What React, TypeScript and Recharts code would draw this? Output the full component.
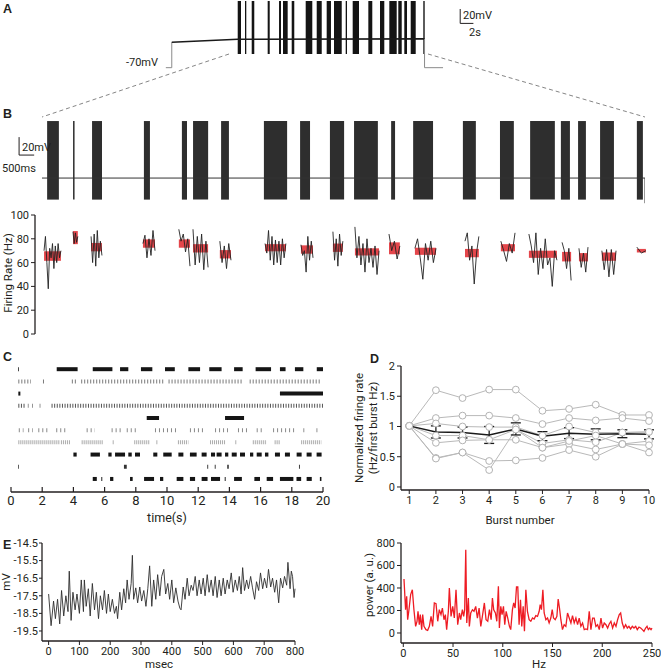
import React from 'react'
import { LineChart, Line, XAxis, YAxis, ReferenceArea, ReferenceLine, ErrorBar } from 'recharts'

const INK = '#231f20'
const FONT = 'Roboto, "Noto Sans", sans-serif'
const zero = { top: 0, right: 0, bottom: 0, left: 0 }

// ---- A: whole recording (s, mV)
const aBurstStart = [13.29, 14.39, 15.41, 17.83, 19.55, 20.15, 21.47, 23.59, 25.26, 26.77, 27.88, 29.65, 30.71, 33.08, 34.85, 36.26, 37.62, 38.53, 39.5, 41.41]
const aBurstEnd = [13.79, 14.59, 15.8, 18.14, 19.85, 20.86, 21.86, 24.59, 26.02, 27.42, 29.05, 29.85, 31.67, 33.68, 35.5, 37.38, 38.14, 38.94, 40.26, 41.62]
const aRestIn = [[2.4, -70], [3.3, -70], [3.3, -34.7]]
const aPlateau = [[3.3, -34.7], [13.3, -30.6], [41.6, -30]]
const aRestOut = [[41.6, -30], [41.6, -70], [44.4, -70]]

// ---- B: expanded 20 s (s, mV)
const bBurstStart = [0.17, 1.03, 1.66, 3.38, 4.64, 5.01, 5.94, 7.36, 8.56, 9.55, 10.35, 11.58, 12.31, 13.96, 15.19, 16.19, 17.21, 17.78, 18.51, 19.73]
const bBurstEnd = [0.56, 1.08, 1.99, 3.58, 4.81, 5.51, 6.2, 8.13, 8.89, 10.02, 11.14, 11.71, 12.97, 14.39, 15.65, 17.01, 17.51, 18.04, 18.97, 19.93]
const bBase = [[0, -60], [20, -60], [20, -88]]

// ---- firing rate per burst (Hz)
const rateStart = [0.07, 1.03, 1.63, 3.35, 4.54, 5.01, 5.9, 7.4, 8.59, 9.65, 10.38, 11.51, 12.37, 14.03, 15.22, 16.15, 17.25, 17.81, 18.57, 19.73]
const rateEnd = [0.63, 1.19, 1.99, 3.75, 4.91, 5.51, 6.27, 8.09, 8.99, 9.98, 11.18, 11.87, 13.07, 14.49, 15.69, 17.08, 17.55, 18.11, 19.04, 20.03]
const rateMean = [65.5, 81, 73, 76, 76, 72, 67, 72.5, 71, 72.5, 69, 72, 69.5, 68, 72.5, 67, 65, 64.5, 65, 70]
const rateHalf = [4, 5.5, 3.5, 3.5, 3.5, 3.5, 3.5, 3, 3.5, 3.5, 3, 5, 3, 3.5, 3, 3, 4, 3.5, 3.5, 1.5]
const rateTrace = [
  [70, 82, 60, 38, 72, 64, 76, 55, 74, 60, 76, 64, 70],
  [86, 76, 85, 77, 82],
  [82, 60, 84, 57, 87, 64, 78, 66],
  [76, 83, 64, 80, 66, 87, 70],
  [88, 78, 84, 69, 80, 57],
  [88, 58, 82, 60, 84, 54, 78, 56],
  [78, 60, 74, 55, 76, 62],
  [76, 68, 87, 62, 82, 58, 79, 60, 78, 58, 80, 64, 76],
  [75, 66, 70, 52, 82, 62, 78, 64],
  [86, 62, 80, 57, 84, 66, 78],
  [90, 64, 82, 58, 76, 52, 80, 60, 72, 56, 74, 50, 70],
  [84, 70, 78, 63, 74],
  [72, 80, 64, 46, 76, 62, 78, 60, 72],
  [78, 85, 62, 74, 42, 68, 82],
  [78, 70, 61, 76, 68, 85],
  [84, 74, 60, 85, 50, 72, 55, 80, 58, 64, 40, 70, 62],
  [77, 70, 55, 72, 45],
  [72, 56, 68, 52, 73],
  [70, 54, 71, 48, 71, 50, 70],
  [73, 68, 70],
]

// ---- C: raster, spike groups per cell [start s, end s]
const row1 = [[0.45, 0.5], [2.93, 4.27], [5.24, 6.5], [6.99, 7.52], [8.33, 9.06], [9.87, 10.5], [11.37, 12.12], [12.71, 13.5], [14.3, 14.85], [15.68, 16.67], [17.24, 17.6], [18.2, 18.74], [19.6, 20]]
const row2 = [[0.47, 1.28], [2.05, 2.12], [3.9, 4.2], [4.5, 9.8], [10.1, 14.9], [15.3, 19.9]]
const row3 = [[0.47, 0.6], [17.24, 20]]
const row4 = [[0.47, 0.9], [1.08, 1.12], [1.37, 1.41], [1.84, 1.88], [2.6, 20]]
const row5 = [[8.7, 9.49], [13.72, 14.94]]
const row6 = [[0.5, 0.8], [1.1, 1.4], [1.75, 2.4], [2.9, 3.5], [4.85, 5.38], [6.45, 7.1], [7.42, 8.16], [9.23, 10.7], [11.47, 12.44], [13.08, 13.91], [14.55, 15.13], [15.75, 16.07], [16.8, 18.2], [18.74, 18.8], [19.58, 19.64]]
const row7 = [[0.47, 3.14], [3.2, 3.78], [4.53, 5.92], [6.52, 6.58], [7.9, 8.9], [9.32, 9.38], [10.7, 11.37], [12.76, 13.72], [14.38, 14.44], [15.5, 16.4], [16.9, 17.24], [18.6, 19.9]]
const row8 = [[4.0, 4.21], [5.1, 5.7], [6.24, 6.45], [6.67, 7.31], [7.52, 7.74], [7.95, 8.27], [9.12, 9.38], [9.76, 10.3], [10.73, 11.05], [11.47, 11.9], [12.22, 12.54], [12.82, 13.08], [13.18, 13.5], [13.72, 13.93], [14.15, 14.47], [14.68, 15.0], [15.32, 15.53], [15.75, 16.07], [16.28, 16.5], [16.92, 17.24], [17.56, 17.88], [18.31, 18.63], [18.95, 19.27], [19.59, 19.91]]
const row9 = [[0.45, 0.5], [7.24, 7.42], [12.58, 12.64], [13.06, 13.12], [13.86, 13.96], [18.46, 18.52]]
const row10 = [[5.24, 5.5], [5.79, 5.85], [6.35, 6.56], [7.63, 7.8], [8.53, 9.17], [9.55, 9.76], [10.62, 11.05], [11.47, 11.8], [12.22, 12.6], [12.82, 13.4], [13.7, 13.76], [14.3, 14.8], [15.6, 15.96], [16.39, 16.8], [17.24, 18.1], [18.3, 18.6], [18.95, 19.28], [19.8, 19.9]]
const rasterRows = [row1, row2, row3, row4, row5, row6, row7, row8, row9, row10]
const rasterColor = ['#151515', '#7a7a7a', '#151515', '#555', '#151515', '#8a8a8a', '#aaa', '#151515', '#333', '#151515']
const rasterDash = ['', '1 2', '', '1 1.6', '', '1 3', '1 1', '', '', '']
const cTicks = [0, 2, 4, 6, 8, 10, 12, 14, 16, 18, 20]

// ---- D: normalized rate per burst
const dBurst = [1, 2, 3, 4, 5, 6, 7, 8, 9, 10]
const dCell1 = [1.01, 1.6, 1.47, 1.61, 1.61, 1.26, 1.29, 1.36, 1.19, 1.19]
const dCell2 = [1.01, 1.14, 1.18, 1.18, 1.14, 1.04, 1.14, 1.1, 1.14, 1.09]
const dCell3 = [1.01, 1.05, 1.0, 0.99, 0.99, 0.85, 1.0, 0.9, 0.9, 0.91]
const dCell4 = [1.01, 0.85, 0.85, 0.78, 0.95, 0.72, 0.78, 0.74, 0.9, 0.91]
const dCell5 = [1.01, 0.73, 0.77, 0.78, 0.78, 0.65, 0.71, 0.62, 0.71, 0.76]
const dCell6 = [1.01, 0.48, 0.57, 0.28, 0.95, 0.65, 0.76, 0.85, 0.71, 0.69]
const dCell7 = [1.01, 0.47, 0.57, 0.43, 0.44, 0.48, 0.61, 0.5, 0.71, 0.57]
const dMean = [1.01, 0.91, 0.9, 0.86, 0.96, 0.84, 0.89, 0.87, 0.88, 0.87]
const dErr = [0, 0.1, 0.09, 0.14, 0.1, 0.075, 0.09, 0.09, 0.065, 0.075]
const dCells = [dCell1, dCell2, dCell3, dCell4, dCell5, dCell6, dCell7]

// ---- E: membrane trace (ms, mV) and power spectrum (Hz, a.u.)
const eTrace = [[0, -17.4], [8, -19.2], [16, -17.8], [22, -18.8], [29, -17.7], [36, -19.1], [42, -17.2], [49, -18.65], [56, -17.5], [63, -18.4], [67, -16.1], [73, -18.9], [79, -17.3], [86, -18.3], [92, -17.4], [100, -18.5], [106, -16.6], [113, -18.4], [116, -16.6], [122, -18.1], [129, -17.1], [135, -18.65], [142, -16.8], [149, -18.3], [155, -17.3], [162, -18.8], [168, -17.5], [175, -18.3], [181, -17.2], [188, -18.5], [194, -17.4], [200, -18.4], [207, -17.7], [214, -18.5], [220, -18.1], [224, -18.8], [231, -17.3], [237, -18.3], [244, -17.1], [250, -17.9], [255, -16.6], [261, -17.7], [268, -16.8], [272, -15.2], [276, -17.7], [283, -17.05], [289, -17.9], [296, -17.0], [302, -17.8], [309, -17.2], [316, -18.1], [322, -17.1], [328, -15.8], [335, -18.1], [341, -16.6], [348, -17.7], [354, -16.3], [361, -17.5], [367, -16.4], [374, -16.0], [380, -17.4], [387, -16.8], [393, -17.7], [400, -16.6], [406, -17.9], [413, -17.05], [420, -17.8], [426, -18.2], [430, -18.3], [437, -17.0], [443, -17.7], [450, -16.5], [456, -17.5], [463, -16.9], [469, -17.2], [476, -16.4], [482, -17.5], [489, -16.6], [495, -17.4], [502, -16.5], [508, -17.5], [515, -16.3], [521, -17.3], [528, -16.6], [534, -17.5], [541, -16.4], [547, -17.6], [554, -16.6], [560, -17.5], [567, -16.5], [573, -17.4], [580, -16.6], [586, -17.1], [593, -16.2], [599, -17.3], [606, -16.6], [613, -17.2], [619, -16.4], [625, -17.4], [630, -15.9], [636, -17.2], [643, -16.6], [649, -17.1], [656, -16.4], [662, -17.05], [669, -17.7], [675, -16.7], [682, -17.2], [688, -16.2], [695, -17.1], [701, -16.5], [708, -17.05], [714, -16.0], [721, -17.0], [727, -16.5], [734, -17.3], [740, -16.6], [747, -17.9], [753, -16.5], [760, -17.05], [766, -16.4], [773, -16.9], [777, -15.6], [784, -17.1], [788, -16.1], [792, -16.4], [797, -17.6], [800, -17.1]]
const eSpectrum = [[0.7, 480], [2.3, 207], [3.4, 326], [4.4, 118], [5.7, 207], [7.4, 341], [9.1, 385], [10.7, 207], [12.4, 59], [13.8, 104], [14.8, 193], [16.1, 74], [17.1, 163], [18.5, 30], [19.5, 163], [20.8, 59], [22.8, 30], [24.5, 24], [26.2, 59], [27.9, 148], [29.5, 59], [31.2, 267], [32.9, 261], [34.6, 104], [36.2, 207], [37.9, 163], [39.3, 222], [40.9, 118], [42.3, 163], [43.6, 30], [45.3, 193], [46.3, 400], [48, 148], [49.7, 237], [51.3, 133], [53, 385], [54.7, 74], [56.4, 178], [57.7, 118], [59.4, 207], [60.7, 148], [61.7, 207], [62.8, 741], [63.8, 89], [65.4, 311], [66.4, 59], [67.8, 178], [69.5, 207], [71.1, 193], [72.8, 237], [74.5, 133], [76.2, 222], [77.9, 59], [79.5, 148], [81.5, 267], [83.2, 118], [84.9, 104], [86.6, 207], [88.3, 118], [89.6, 311], [90.9, 207], [92.6, 178], [94, 104], [95.6, 415], [96.6, 44], [98, 237], [99.3, 163], [100.7, 237], [102, 74], [103.4, 193], [105, 133], [106.7, 59], [108, 30], [109.7, 207], [111, 267], [112.4, 222], [113.8, 409], [115.1, 409], [116.4, 74], [117.8, 296], [119.1, 59], [120.5, 237], [121.8, 15], [123.2, 385], [124.8, 193], [126.5, 118], [128.2, 104], [129.9, 133], [131.5, 124], [133.2, 154], [134.9, 148], [136.6, 193], [137.6, 252], [138.9, 207], [140.3, 385], [141.6, 178], [143.3, 118], [145, 133], [146.6, 89], [148.3, 133], [149.7, 207], [151, 133], [152.7, 118], [154.4, 148], [155.7, 302], [157, 222], [158.4, 118], [160, 30], [161.7, 74], [163.4, 59], [165.1, 178], [166.8, 133], [168.5, 89], [170.1, 154], [171.8, 89], [173.5, 133], [175.2, 74], [176.8, 133], [178.5, 59], [180.2, 89], [181.9, 30], [183.6, 36], [185.2, 30], [186.9, 193], [188.6, 30], [190.3, 133], [191.9, 133], [193.6, 59], [195.3, 74], [197, 30], [198.7, 133], [200.3, 44], [202, 89], [203.7, 74], [205.4, 44], [207, 80], [208.7, 104], [210.4, 44], [212.1, 89], [213.8, 59], [215.4, 118], [217.1, 163], [218.5, 178], [220.1, 89], [221.8, 44], [223.5, 74], [225.2, 44], [226.8, 59], [228.5, 36], [230.2, 59], [231.9, 44], [233.6, 59], [235.2, 30], [236.9, 53], [238.6, 44], [240.3, 30], [241.9, 15], [243.6, 44], [245, 59], [246.3, 30], [247.7, 44], [249, 30], [250, 44]]

const pts = (arr: number[][], k = 't') => arr.map(([t, v]) => ({ [k]: t, v }))
const spread = (s: number, e: number, vals: number[]) =>
  vals.map((v, i) => ({ t: s + (i * (e - s)) / (vals.length - 1), v }))

const dRows = dBurst.map((b, i) => {
  const row: any = { burst: b, mean: dMean[i], err: dErr[i] }
  dCells.forEach((c, k) => (row['c' + k] = c[i]))
  return row
})

const tickFont = { fontSize: 11, fill: INK }
const axisStroke = { stroke: INK, strokeWidth: 1.3 }

function UpTick(props: any) {
  const { x, y, payload } = props
  return (
    <g>
      <line x1={x} y1={y} x2={x} y2={y - 5} stroke={INK} strokeWidth={1.2} />
      <text x={x} y={y + 13} textAnchor="middle" fontSize={13} fill={INK}>{payload.value}</text>
    </g>
  )
}

function Pos({ left, top, children }: { left: number; top: number; children: React.ReactNode }) {
  return <div style={{ position: 'absolute', left, top }}>{children}</div>
}

function PanelA() {
  return (
    <LineChart width={330} height={72} margin={zero}>
      <XAxis type="number" dataKey="t" domain={[0, 50]} hide />
      <YAxis type="number" domain={[-76, 24]} hide />
      {aBurstStart.map((s, i) => (
        <ReferenceArea key={i} x1={s} x2={aBurstEnd[i]} y1={-51} y2={22.6} fill="#141414" fillOpacity={1} stroke="none" ifOverflow="visible" />
      ))}
      <Line data={pts(aRestIn)} dataKey="v" stroke="#8a8a8a" strokeWidth={1} dot={false} isAnimationActive={false} />
      <Line data={pts(aPlateau)} dataKey="v" stroke="#1a1a1a" strokeWidth={1.6} dot={false} isAnimationActive={false} />
      <Line data={pts(aRestOut)} dataKey="v" stroke="#8a8a8a" strokeWidth={1} dot={false} isAnimationActive={false} />
      <ReferenceLine segment={[{ x: 47, y: -8.5 }, { x: 47, y: 11.5 }]} stroke={INK} strokeWidth={1} ifOverflow="visible" />
      <ReferenceLine segment={[{ x: 47, y: -8.5 }, { x: 49, y: -8.5 }]} stroke={INK} strokeWidth={1} ifOverflow="visible" />
    </LineChart>
  )
}

function PanelBTrace() {
  return (
    <LineChart width={645} height={88} margin={zero}>
      <XAxis type="number" dataKey="t" domain={[-1.393, 20]} hide />
      <YAxis type="number" domain={[-90, 8]} hide />
      <Line data={pts(bBase)} dataKey="v" stroke="#333" strokeWidth={1} dot={false} isAnimationActive={false} />
      {bBurstStart.map((s, i) => (
        <ReferenceArea key={i} x1={s} x2={bBurstEnd[i]} y1={-84} y2={3.5} fill="#2e2e2e" fillOpacity={1} stroke="none" ifOverflow="visible" />
      ))}
      <ReferenceLine segment={[{ x: -0.76, y: -34.4 }, { x: -0.76, y: -14.4 }]} stroke={INK} strokeWidth={1} ifOverflow="visible" />
      <ReferenceLine segment={[{ x: -0.76, y: -34.4 }, { x: -0.26, y: -34.4 }]} stroke={INK} strokeWidth={1} ifOverflow="visible" />
    </LineChart>
  )
}

function PanelBRate() {
  return (
    <LineChart width={648} height={135} margin={{ top: 8, right: 0, bottom: 8, left: 0 }}>
      <XAxis type="number" dataKey="t" domain={[-0.23, 20.1]} hide />
      <YAxis type="number" domain={[0, 100]} ticks={[0, 20, 40, 60, 80, 100]} width={35} tick={tickFont}
        tickSize={4} tickMargin={2} axisLine={axisStroke} tickLine={{ stroke: INK }} />
      {rateTrace.map((vals, i) => (
        <Line key={'l' + i} data={spread(rateStart[i], rateEnd[i], vals)} dataKey="v" stroke="#222" strokeWidth={0.9}
          dot={false} isAnimationActive={false} />
      ))}
      {rateStart.map((s, i) => (
        <ReferenceArea key={'r' + i} x1={s} x2={rateEnd[i]} y1={rateMean[i] - rateHalf[i]} y2={rateMean[i] + rateHalf[i]}
          fill="#e2383d" fillOpacity={0.93} stroke="none" ifOverflow="visible" />
      ))}
    </LineChart>
  )
}

function PanelC() {
  return (
    <LineChart width={336} height={170} margin={{ top: 0, right: 12, bottom: 0, left: 12 }}>
      <XAxis type="number" dataKey="t" domain={[0, 20]} ticks={cTicks} interval={0} height={35} tickSize={0} tickMargin={0}
        tickLine={false} axisLine={axisStroke} tick={UpTick} />
      <YAxis type="number" domain={[0, 11.07]} reversed hide />
      {rasterRows.map((row, r) =>
        row.map(([s, e], j) => (
          <Line key={r + '-' + j} data={[{ t: s, v: r + 1 }, { t: e, v: r + 1 }]} dataKey="v" stroke={rasterColor[r]}
            strokeWidth={4} strokeDasharray={rasterDash[r] || undefined} dot={false} isAnimationActive={false} />
        ))
      )}
    </LineChart>
  )
}

function PanelD() {
  return (
    <LineChart width={298} height={162} data={dRows} margin={{ top: 8, right: 10, bottom: 0, left: 0 }}>
      <XAxis type="number" dataKey="burst" domain={[0.69, 10]} ticks={dBurst} interval={0} axisLine={axisStroke}
        height={30} tickSize={4} tickMargin={2} tickLine={{ stroke: INK }} tick={tickFont} />
      <YAxis type="number" domain={[-0.05, 2]} ticks={[0, 0.5, 1, 1.5, 2]} axisLine={axisStroke} width={40}
        tickSize={4} tickMargin={2} tickLine={{ stroke: INK }} tick={tickFont} />
      {dCells.map((_, k) => (
        <Line key={k} dataKey={'c' + k} stroke="#b9b9b9" strokeWidth={1} isAnimationActive={false}
          dot={{ r: 3.4, fill: '#fff', stroke: '#b3b3b3', strokeWidth: 1 }} />
      ))}
      <Line dataKey="mean" stroke="#1a1a1a" strokeWidth={1.5} dot={false} isAnimationActive={false}>
        <ErrorBar dataKey="err" width={5} stroke="#1a1a1a" strokeWidth={1.3} direction="y" />
      </Line>
    </LineChart>
  )
}

function PanelETrace() {
  return (
    <LineChart width={307} height={134} margin={{ top: 8, right: 14, bottom: 0, left: 0 }}>
      <XAxis type="number" dataKey="t" domain={[-21.5, 800]} ticks={[0, 100, 200, 300, 400, 500, 600, 700, 800]} interval={0}
        axisLine={axisStroke} height={28} tickSize={4} tickMargin={2} tickLine={{ stroke: INK }} tick={tickFont} />
      <YAxis type="number" domain={[-20.07, -14.5]} ticks={[-19.5, -18.5, -17.5, -16.5, -15.5, -14.5]} interval={0}
        axisLine={axisStroke} width={40} tickSize={3} tickMargin={1} tickLine={{ stroke: INK }} tick={tickFont} />
      <Line data={pts(eTrace)} dataKey="v" stroke="#2e2e2e" strokeWidth={0.9} dot={false} isAnimationActive={false} />
    </LineChart>
  )
}

function PanelESpectrum() {
  return (
    <LineChart width={300} height={136} margin={{ top: 8, right: 9, bottom: 0, left: 0 }}>
      <XAxis type="number" dataKey="t" domain={[-2.3, 250]} ticks={[0, 50, 100, 150, 200, 250]} interval={0}
        axisLine={axisStroke} height={28} tickSize={4} tickMargin={2} tickLine={{ stroke: INK }} tick={tickFont} />
      <YAxis type="number" domain={[-88.9, 800]} ticks={[0, 200, 400, 600, 800]} interval={0}
        axisLine={axisStroke} width={40} tickSize={4} tickMargin={2} tickLine={{ stroke: INK }} tick={tickFont} />
      <Line data={pts(eSpectrum)} dataKey="v" stroke="#ee1c24" strokeWidth={1.3} dot={false} isAnimationActive={false} />
    </LineChart>
  )
}

function Overlay() {
  const letter = { fontSize: 12.5, fontWeight: 700, fill: INK, fontFamily: 'Arial, "Liberation Sans", sans-serif' }
  const t = { fontSize: 11, fill: INK }
  return (
    <svg width={661} height={672} style={{ position: 'absolute', left: 0, top: 0, pointerEvents: 'none' }}>
      <text x={3} y={13} {...letter}>A</text>
      <text x={3} y={118} {...letter}>B</text>
      <text x={3} y={361} {...letter}>C</text>
      <text x={370} y={363} {...letter}>D</text>
      <text x={3} y={549} {...letter}>E</text>

      <line x1={229} y1={54} x2={42} y2={117} stroke="#666" strokeWidth={0.8} strokeDasharray="4 3" />
      <line x1={428} y1={54} x2={645} y2={117} stroke="#666" strokeWidth={0.8} strokeDasharray="4 3" />

      <text x={158} y={66} textAnchor="end" {...t}>-70mV</text>
      <text x={463} y={19} {...t}>20mV</text>
      <text x={469} y={36} {...t}>2s</text>
      <text x={22} y={151} {...t}>20mV</text>
      <text x={2} y={172} {...t}>500ms</text>

      <text transform="translate(12,273) rotate(-90)" textAnchor="middle" fontSize={11.5} fill={INK}>Firing Rate (Hz)</text>
      <text x={167} y={522} textAnchor="middle" fontSize={12.5} fill={INK}>time(s)</text>

      <text transform="translate(363,428) rotate(-90)" textAnchor="middle" fontSize={11.5} fill={INK}>Normalized firing rate</text>
      <text transform="translate(377,428) rotate(-90)" textAnchor="middle" fontSize={11.5} fill={INK}>(Hz/first burst Hz)</text>
      <text x={520} y={524} textAnchor="middle" fontSize={11.5} fill={INK}>Burst number</text>

      <text transform="translate(10,582) rotate(-90)" textAnchor="middle" fontSize={11.5} fill={INK}>mV</text>
      <text x={159} y={668} textAnchor="middle" fontSize={11.5} fill={INK}>msec</text>
      <text transform="translate(373,585) rotate(-90)" textAnchor="middle" fontSize={11.5} fill={INK}>power (a. u.)</text>
      <text x={539} y={668} textAnchor="middle" fontSize={11.5} fill={INK}>Hz</text>
    </svg>
  )
}

export default function App() {
  return (
    <div style={{ position: 'absolute', left: 0, top: 0, width: 661, height: 672, background: '#fff', fontFamily: FONT, overflow: 'hidden' }}>
      <Pos left={150} top={0}><PanelA /></Pos>
      <Pos left={0} top={117}><PanelBTrace /></Pos>
      <Pos left={0} top={207}><PanelBRate /></Pos>
      <Pos left={-1} top={357}><PanelC /></Pos>
      <Pos left={361} top={358}><PanelD /></Pos>
      <Pos left={2} top={535}><PanelETrace /></Pos>
      <Pos left={361} top={535}><PanelESpectrum /></Pos>
      <Overlay />
    </div>
  )
}
